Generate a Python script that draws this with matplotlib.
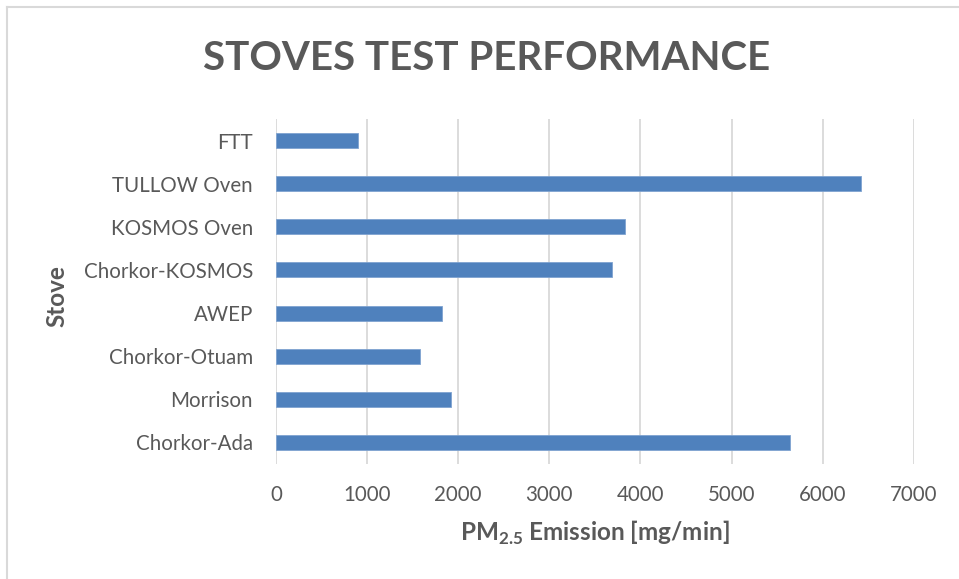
import matplotlib.pyplot as plt
from matplotlib.lines import Line2D

# data (bottom to top as drawn)
stoves = ['Chorkor-Ada', 'Morrison', 'Chorkor-Otuam', 'AWEP',
          'Chorkor-KOSMOS', 'KOSMOS Oven', 'TULLOW Oven', 'FTT']
pm25 = [5640, 1920, 1585, 1820, 3685, 3835, 6420, 905]
xticks = [0, 1000, 2000, 3000, 4000, 5000, 6000, 7000]

txt = '#595959'
plt.rcParams['font.family'] = ['Lato', 'DejaVu Sans']
plt.rcParams['mathtext.fontset'] = 'custom'
plt.rcParams['mathtext.rm'] = 'Lato:bold'
plt.rcParams['mathtext.bf'] = 'Lato:bold'

fig = plt.figure(figsize=(9.59, 5.79), dpi=100)
ax = fig.add_axes([276/959, 1-464/579, 637.7/959, 345/579])

ax.barh(range(len(stoves)), pm25, height=0.35, color='#4F81BD',
        edgecolor='#7FA3D0', linewidth=0.6, zorder=3)
ax.set_ylim(-0.5, len(stoves)-0.5)
ax.set_xlim(0, 7000)
ax.set_xticks(xticks)
ax.set_xticklabels([str(v) for v in xticks])
ax.set_yticks(range(len(stoves)))
ax.set_yticklabels(stoves)
ax.grid(axis='x', color='#d9d9d9', linewidth=1.3, zorder=0)
ax.tick_params(axis='both', length=0, labelsize=14.8, colors=txt)
ax.tick_params(axis='x', pad=15)
ax.tick_params(axis='y', pad=16.5)
for s in ax.spines.values():
    s.set_visible(False)

ax.set_xlabel(r'PM$_{\mathrm{2.5}}$ Emission [mg/min]', fontsize=17.5,
              fontweight='bold', color=txt, labelpad=10)
fig.text(57/959, 1-296/579, 'Stove', rotation=90, fontsize=17.5,
         fontweight='bold', color=txt, ha='center', va='center')
fig.text(487/959, 1-58/579, 'STOVES TEST PERFORMANCE', fontsize=29,
         fontweight='bold', color=txt, ha='center', va='center')

# chart border
fig.add_artist(Line2D([7/959, 1], [1-7/579]*2, color='#d9d9d9', lw=1.5,
                      transform=fig.transFigure))
fig.add_artist(Line2D([7/959]*2, [0, 1-7/579], color='#d9d9d9', lw=1.5,
                      transform=fig.transFigure))

fig.savefig('out.png', dpi=100)
